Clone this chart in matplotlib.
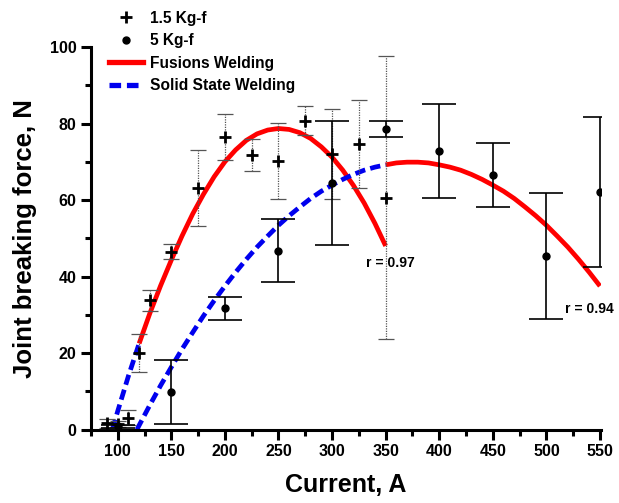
import matplotlib.pyplot as plt
from matplotlib.lines import Line2D
from matplotlib.ticker import MultipleLocator

plt.rcParams['font.family'] = ['Liberation Sans', 'DejaVu Sans']
plt.rcParams['font.weight'] = 'bold'

# 1.5 Kg-f measurements (mean, error)
x_15 = [90, 100, 110, 120, 130, 150, 175, 200, 225, 250, 275, 300, 325, 350]
y_15 = [1.6, 1.4, 3.1, 20.0, 33.8, 46.5, 63.2, 76.4, 71.8, 70.2, 80.7, 72.0, 74.6, 60.6]
e_15 = [1.2, 0.8, 2.0, 5.0, 2.8, 2.0, 10.0, 6.0, 4.2, 10.0, 3.8, 11.8, 11.5, 37.0]

# 5 Kg-f measurements (mean, error)
x_5 = [100, 150, 200, 250, 300, 350, 400, 450, 500, 550]
y_5 = [0.8, 9.9, 31.7, 46.8, 64.4, 78.5, 72.9, 66.5, 45.4, 62.0]
e_5 = [0.5, 8.4, 3.0, 8.3, 16.2, 2.1, 12.3, 8.4, 16.4, 19.6]

# fit curve for 1.5 Kg-f
c1_solid_x = [95, 100, 110, 120]
c1_solid_y = [0.0, 4.8, 14.0, 22.5]
c1_fus_x = [120, 130, 140, 150, 160, 170, 180, 190, 200, 210, 220, 230, 240, 250,
            260, 270, 280, 290, 300, 310, 320, 330, 340, 350]
c1_fus_y = [22.5, 30.4, 37.6, 44.3, 50.6, 56.4, 61.5, 66.1, 70.0, 73.1, 75.6, 77.3, 78.3, 78.7,
            78.45, 77.6, 76.1, 73.9, 71.2, 67.8, 63.8, 59.2, 53.9, 48.0]

# fit curve for 5 Kg-f
c2_solid_x = [118, 120, 130, 140, 150, 160, 170, 180, 190, 200, 210, 220, 230, 240,
              250, 260, 270, 280, 290, 300, 310, 320, 330, 340, 350]
c2_solid_y = [0.0, 1.1, 6.4, 11.5, 16.3, 21.0, 25.4, 29.7, 33.7, 37.5, 41.1, 44.5, 47.7, 50.6,
              53.4, 55.9, 58.2, 60.4, 62.3, 63.9, 65.4, 66.7, 67.8, 68.6, 69.2]
c2_fus_x = [350, 360, 370, 380, 390, 400, 410, 420, 430, 440, 450, 460, 470, 480,
            490, 500, 510, 520, 530, 540, 550]
c2_fus_y = [69.2, 69.7, 69.9, 69.9, 69.7, 69.2, 68.6, 67.8, 66.7, 65.4, 63.9, 62.3, 60.4, 58.2,
            55.9, 53.4, 50.6, 47.7, 44.5, 41.1, 37.5]

RED = '#ff0000'
BLUE = '#0000ee'
DASH = (0, (2.2, 1.1))

fig = plt.figure(figsize=(6.19, 5.03), dpi=100)
ax = fig.add_axes([0.1469, 0.1461, 0.8241, 0.7604])

ax.plot(c1_fus_x, c1_fus_y, color=RED, lw=3.4, solid_capstyle='butt', zorder=2)
ax.plot(c2_fus_x, c2_fus_y, color=RED, lw=3.4, solid_capstyle='butt', zorder=2)
ax.plot(c1_solid_x, c1_solid_y, color=BLUE, lw=3.4, ls=DASH, zorder=2)
ax.plot(c2_solid_x, c2_solid_y, color=BLUE, lw=3.4, ls=DASH, zorder=2)

eb = ax.errorbar(x_15, y_15, yerr=e_15, fmt='none', ecolor='#555555',
                 elinewidth=0.9, capsize=5.5, capthick=0.9, zorder=3)
eb[2][0].set_linestyle((0, (1, 1)))
ax.plot(x_15, y_15, ls='none', marker='+', ms=8, mew=2, color='black', zorder=4)

ax.errorbar(x_5, y_5, yerr=e_5, fmt='o', ms=5, color='black', ecolor='black',
            elinewidth=1.2, capsize=12, capthick=1.2, zorder=4)

ax.text(354, 43.5, 'r = 0.97', fontsize=10, ha='center', va='center')
ax.text(540, 31.5, 'r = 0.94', fontsize=10, ha='center', va='center')

ax.set_xlim(75, 551)
ax.set_ylim(0, 100)
ax.xaxis.set_minor_locator(MultipleLocator(25))
ax.yaxis.set_major_locator(MultipleLocator(20))
ax.yaxis.set_minor_locator(MultipleLocator(10))
ax.set_xticks(range(100, 551, 50))

for s in ['top', 'right']:
    ax.spines[s].set_visible(False)
for s in ['left', 'bottom']:
    ax.spines[s].set_linewidth(2.2)
ax.tick_params(which='major', direction='out', length=7, width=2.2, labelsize=11.5)
ax.tick_params(which='minor', direction='out', length=4.5, width=2.2)

ax.set_xlabel('Current, A', fontsize=18, fontweight='bold', labelpad=10)
ax.set_ylabel('Joint breaking force, N', fontsize=18.5, fontweight='bold', labelpad=9)

handles = [
    Line2D([], [], ls='none', marker='+', ms=8, mew=2, color='black'),
    Line2D([], [], ls='none', marker='o', ms=5, color='black'),
    Line2D([], [], color=RED, lw=3.8),
    Line2D([], [], color=BLUE, lw=3.8, ls=DASH),
]
labels = ['1.5 Kg-f', '5 Kg-f', 'Fusions Welding', 'Solid State Welding']
fig.legend(handles, labels, loc='upper left', bbox_to_anchor=(98 / 619, 1.0),
           frameon=False, fontsize=11.2, handlelength=2.2, handletextpad=0.45,
           labelspacing=0.48, borderpad=0.2)

fig.savefig('out.png', dpi=100)
